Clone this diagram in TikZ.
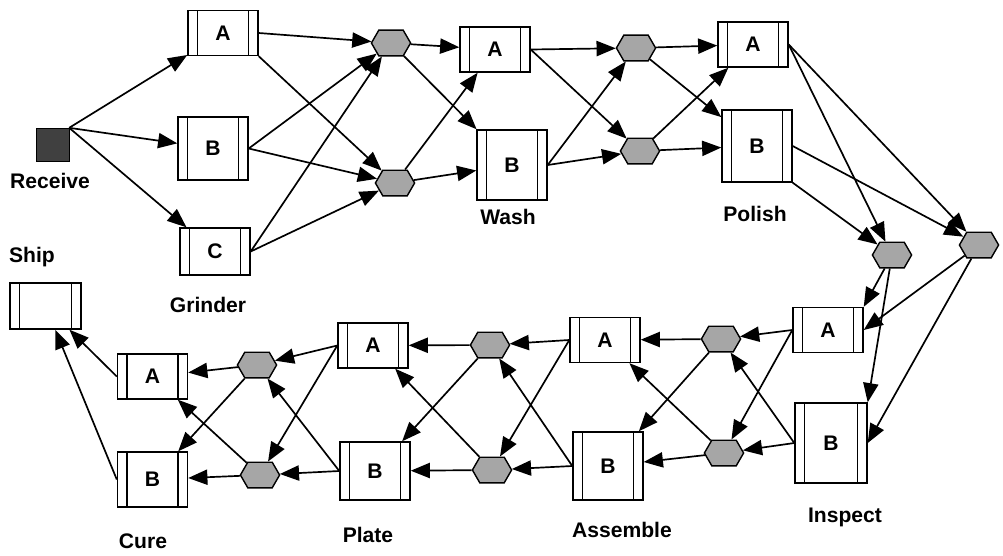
\documentclass[tikz,border=0pt]{standalone}
\usepackage{fontspec}
\setmainfont{Liberation Sans}
\usetikzlibrary{shapes,shapes.symbols,arrows.meta,positioning}

\begin{document}
\begin{tikzpicture}[x=0.25mm, y=-0.25mm, font=\bfseries\fontsize{15}{18}\selectfont,
  station/.style={draw, line width=1pt, fill=white, minimum width=17.5mm, minimum height=11.25mm, inner sep=0pt,
    path picture={
      \draw[line width=1pt] ([xshift=2.4mm]path picture bounding box.north west) -- ([xshift=2.4mm]path picture bounding box.south west);
      \draw[line width=1pt] ([xshift=-2.4mm]path picture bounding box.north east) -- ([xshift=-2.4mm]path picture bounding box.south east);}},
  queue/.style={signal, signal to=east and west, signal pointer angle=120, draw, line width=1pt,
    fill=gray!70, minimum width=9.8mm, minimum height=6.4mm, inner sep=0pt},
  flow/.style={-{Triangle[length=4.8mm,width=3.8mm]}, line width=1.2pt}]
\useasboundingbox (0,0) rectangle (1003,555);

% source and sink
\node[draw, fill=black!75, minimum size=8.2mm, inner sep=0pt] (recv) at (52.5,144.5) {};
\node at (50,181) {Receive};
\node[station, minimum width=17.75mm, minimum height=11.5mm] (ship) at (45.5,306) {};
\node at (32,257) {Ship};

% upper line: grinder, wash, polish
\node[station] (ga) at (223,33) {A};
\node[station, minimum height=15.75mm] (gb) at (213,148.5) {B};
\node[station, minimum height=11.75mm] (gc) at (215,251.5) {C};
\node at (208,305) {Grinder};
\node[station] (wa) at (495,49.5) {A};
\node[station, minimum height=17.5mm] (wb) at (512,165) {B};
\node at (508,217) {Wash};
\node[station] (pa) at (753,44.5) {A};
\node[station, minimum height=18mm] (pb) at (757,146) {B};
\node at (755,214) {Polish};

% lower line: inspect, assemble, plate, cure
\node[station] (ia) at (828,330) {A};
\node[station, minimum width=18mm, minimum height=20mm] (ib) at (831,443) {B};
\node at (845,517) {Inspect};
\node[station] (aa) at (605,340) {A};
\node[station, minimum height=17mm] (ab) at (608,466) {B};
\node at (622,530) {Assemble};
\node[station] (pla) at (373,345.5) {A};
\node[station, minimum height=14.5mm] (plb) at (375,471) {B};
\node at (368,535) {Plate};
\node[station] (ca) at (152.5,376.5) {A};
\node[station, minimum height=13.75mm] (cb) at (152.5,479.5) {B};
\node at (143,541) {Cure};

% buffers between the stations
\node[queue] (q1) at (391,43) {};
\node[queue] (q2) at (395,183) {};
\node[queue] (q3) at (636,48) {};
\node[queue] (q4) at (640,151) {};
\node[queue] (q5) at (892,255) {};
\node[queue] (q6) at (979,245) {};
\node[queue] (q7) at (721,339) {};
\node[queue] (q8) at (724,453) {};
\node[queue] (q9) at (490,345) {};
\node[queue] (q10) at (492,470) {};
\node[queue] (q11) at (257,365) {};
\node[queue] (q12) at (260,475) {};

% routing
\foreach \t in {ga,gb,gc} \draw[flow] (recv.north east) -- (\t);
\draw[flow] (ga.east) -- (q1);
\draw[flow] (ga.south east) -- (q2);
\foreach \s in {gb,gc} { \foreach \t in {q1,q2} \draw[flow] (\s.east) -- (\t); }
\foreach \s in {q1,q2} { \foreach \t in {wa,wb} \draw[flow] (\s) -- (\t); }
\foreach \s in {wa,wb} { \foreach \t in {q3,q4} \draw[flow] (\s.east) -- (\t); }
\foreach \s in {q3,q4} { \foreach \t in {pa,pb} \draw[flow] (\s) -- (\t); }
\draw[flow] (pa.east) -- (q5);
\draw[flow] (pa.east) -- (q6);
\draw[flow] (pb.south east) -- (q5);
\draw[flow] (pb.east) -- (q6);
\draw[flow] (q5) -- (ia.north east);
\draw[flow] (q5) -- (ib.north east);
\draw[flow] (q6) -- (ia.east);
\draw[flow] (q6) -- (ib.east);
\foreach \s in {ia,ib} { \foreach \t in {q7,q8} \draw[flow] (\s.west) -- (\t); }
\foreach \s in {q7,q8} { \foreach \t in {aa,ab} \draw[flow] (\s) -- (\t); }
\foreach \s in {aa,ab} { \foreach \t in {q9,q10} \draw[flow] (\s.west) -- (\t); }
\foreach \s in {q9,q10} { \foreach \t in {pla,plb} \draw[flow] (\s) -- (\t); }
\foreach \s in {pla,plb} { \foreach \t in {q11,q12} \draw[flow] (\s.west) -- (\t); }
\foreach \s in {q11,q12} { \foreach \t in {ca,cb} \draw[flow] (\s) -- (\t); }
\foreach \s in {ca,cb} \draw[flow] (\s.west) -- (ship);
\end{tikzpicture}
\end{document}
